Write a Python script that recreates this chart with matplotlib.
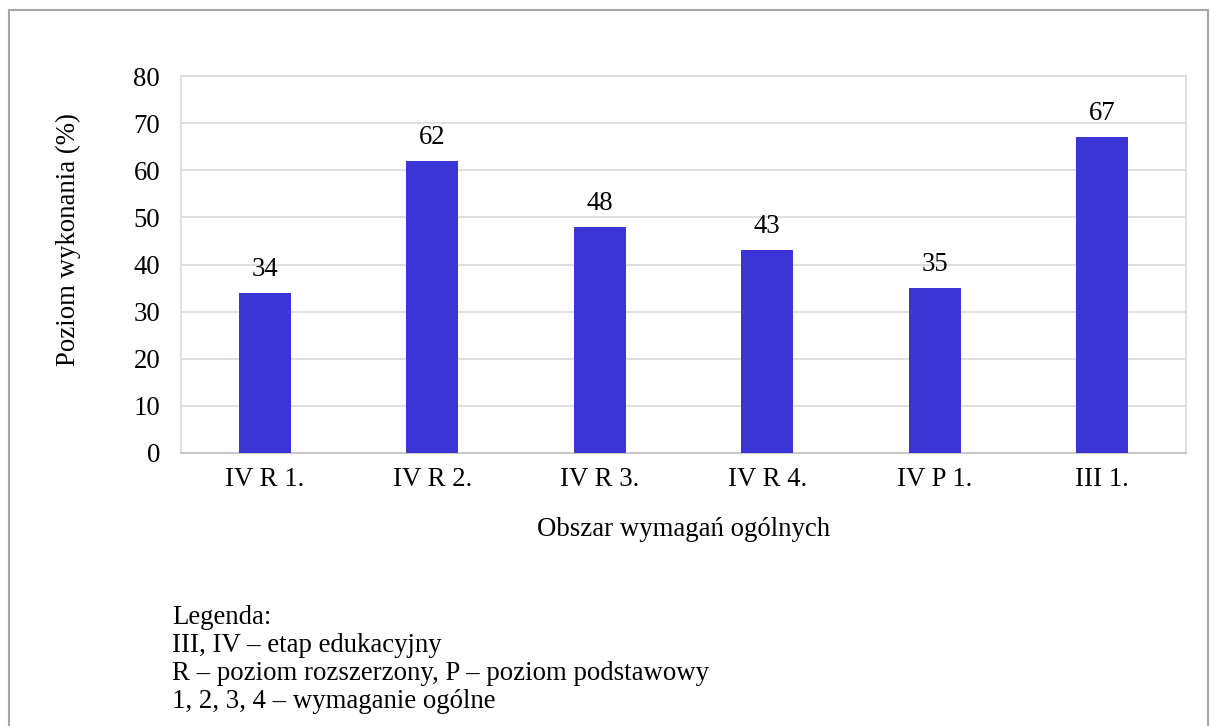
import matplotlib
matplotlib.use("Agg")
import matplotlib.pyplot as plt
from matplotlib.patches import Rectangle

categories = ["IV R 1.", "IV R 2.", "IV R 3.", "IV R 4.", "IV P 1.", "III 1."]
values = [34, 62, 48, 43, 35, 67]
yticks = [0, 10, 20, 30, 40, 50, 60, 70, 80]
legend_lines = ["Legenda:",
                "III, IV – etap edukacyjny",
                "R – poziom rozszerzony, P – poziom podstawowy",
                "1, 2, 3, 4 – wymaganie ogólne"]

plt.rcParams['font.family'] = ['Liberation Serif', 'DejaVu Serif']
FS = 19.3
W, H = 1211, 726
fig = plt.figure(figsize=(W/100, H/100), dpi=100)

# outer frame
fig.patches.append(Rectangle((9/W, -0.05), (1208-9)/W, (H-10)/H + 0.05,
                             transform=fig.transFigure, fill=False,
                             edgecolor='#A6A6A6', linewidth=1.5))

ax = fig.add_axes([181/W, 1-453/H, (1186-181)/W, (453-76)/H])
x = list(range(len(categories)))
bars = ax.bar(x, values, width=0.31, color='#3A35D4', zorder=3)
ax.set_xlim(-0.5, len(categories)-0.5)
ax.set_ylim(0, 80)
ax.set_yticks(yticks)
ax.set_xticks(x)
ax.set_xticklabels(categories, fontsize=FS)
ax.tick_params(axis='y', labelsize=FS, length=0, pad=15)
ax.tick_params(axis='x', length=0, pad=10)
ax.grid(axis='y', color='#D9D9D9', linewidth=1.2, zorder=0)
for s in ['top', 'right', 'left']:
    ax.spines[s].set_color('#D9D9D9')
    ax.spines[s].set_linewidth(1.2)
ax.spines['bottom'].set_color('#BFBFBF')
ax.spines['bottom'].set_linewidth(1.2)
for xi, v in zip(x, values):
    ax.annotate(f"{v}", (xi, v), xytext=(0, 17), textcoords='offset points',
                ha='center', va='center', fontsize=FS)
ax.set_ylabel("Poziom wykonania (%)", fontsize=FS, va='center')
ax.yaxis.set_label_coords((68-181)/1005, (453-240)/377)
ax.set_xlabel("Obszar wymagań ogólnych", fontsize=FS, va='center')
ax.xaxis.set_label_coords(0.5, (453-530)/377)

y0 = 617
for i, line in enumerate(legend_lines):
    fig.text(172/W, 1-(y0 + 28*i)/H, line, fontsize=FS, ha='left', va='center')

fig.savefig("out.png", dpi=100)
